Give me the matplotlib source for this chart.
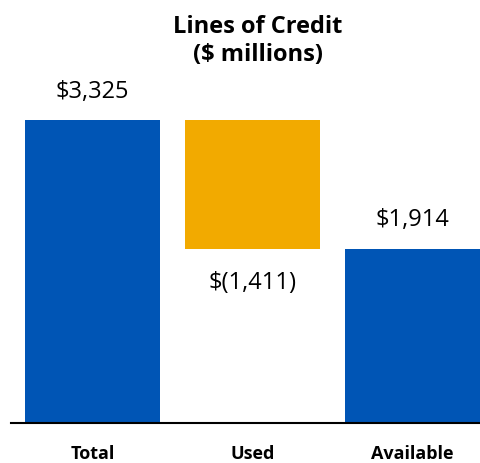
import matplotlib.pyplot as plt

plt.rcParams['font.family'] = ['Open Sans', 'DejaVu Sans']

categories = ['Total', 'Used', 'Available']
total = 3325
used = 1411
available = 1914
labels = ['$3,325', '$(1,411)', '$1,914']

blue = '#0055B5'
orange = '#F2AA00'

W, H = 480, 464
fig = plt.figure(figsize=(W / 100, H / 100), dpi=100)
# axes placed in pixels: left 11, right 480, baseline at y=424, top value at y=121
ax = fig.add_axes([11 / W, 40 / H, 469 / W, 303 / H])

x = [0, 1, 2]
bw = 135 / 160
ax.bar(x[0], total, width=bw, color=blue)
ax.bar(x[1], used, bottom=available, width=bw, color=orange)
ax.bar(x[2], available, width=bw, color=blue)

ax.set_xlim(-81.5 / 160, -81.5 / 160 + 469 / 160)
ax.set_ylim(0, total)

ax.text(x[0], total + 320, labels[0], ha='center', va='center', fontsize=17)
ax.text(x[1], available - 370, labels[1], ha='center', va='center', fontsize=17)
ax.text(x[2], available + 330, labels[2], ha='center', va='center', fontsize=17)

ax.set_xticks(x)
ax.set_xticklabels(categories, fontsize=13, fontweight='bold')
ax.tick_params(axis='x', length=0, pad=15)
ax.set_yticks([])
for s in ['top', 'right', 'left']:
    ax.spines[s].set_visible(False)
ax.spines['bottom'].set_linewidth(1.5)

fig.text(258 / W, 1 - 41 / H, 'Lines of Credit\n($ millions)', ha='center', va='center',
         fontsize=17, fontweight='bold', linespacing=1.2)

fig.savefig('out.png', dpi=100)
